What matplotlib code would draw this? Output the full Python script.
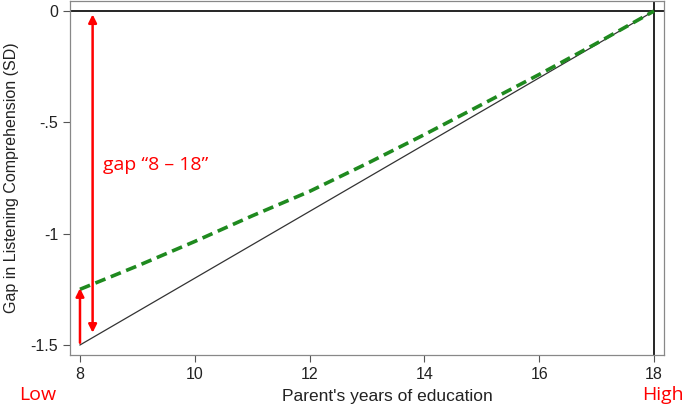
import matplotlib.pyplot as plt

plt.rcParams['font.family'] = ['Liberation Sans', 'DejaVu Sans']

# years of parental education
years = [8, 9, 10, 11, 12, 13, 14, 15, 16, 17, 18]
# gap in listening comprehension (SD), dashed green curve
gap_curve = [-1.25, -1.145, -1.035, -0.92, -0.81, -0.685, -0.555, -0.42, -0.285, -0.145, 0.0]
# linear reference line
line_x = [8, 18]
line_y = [-1.5, 0.0]

xticks = [8, 10, 12, 14, 16, 18]
yticks = [0, -0.5, -1, -1.5]
ytick_labels = ['0', '-.5', '-1', '-1.5']

fig = plt.figure(figsize=(6.85, 4.07), dpi=100)
ax = fig.add_axes([70/685, 1 - 355/407, 594/685, 354/407])

ax.axhline(0, color='black', lw=1.2)
ax.axvline(18, color='black', lw=1.2)
ax.plot(line_x, line_y, color='#333333', lw=0.9)
ax.plot(years, gap_curve, color='#1f8a1f', lw=2.6, linestyle=(0, (3, 1.6)))

# red arrows
ax.annotate('', xy=(8, -1.245), xytext=(8, -1.49),
            arrowprops=dict(arrowstyle='-|>', color='red', lw=1.8,
                            mutation_scale=12, shrinkA=0, shrinkB=0))
ax.annotate('', xy=(8.22, -0.015), xytext=(8.22, -1.445),
            arrowprops=dict(arrowstyle='<|-|>', color='red', lw=1.8,
                            mutation_scale=12, shrinkA=0, shrinkB=0))
ax.text(8.4, -0.69, 'gap \u201c8 \u2013 18\u201d', color='red', fontsize=14,
        family=['Open Sans', 'DejaVu Sans'], va='center', ha='left')

ax.set_xlim(7.826, 18.174)
ax.set_ylim(-1.545, 0.045)
ax.set_xticks(xticks)
ax.set_yticks(yticks)
ax.set_yticklabels(ytick_labels)
ax.tick_params(colors='#555555', labelcolor='#222222', labelsize=11.5,
               length=5, width=0.8)
for s in ax.spines.values():
    s.set_color('#888888')
    s.set_linewidth(0.9)

ax.set_xlabel("Parent's years of education", fontsize=12.5, color='#222222')
ax.xaxis.set_label_coords(0.535, -0.095)
ax.set_ylabel('Gap in Listening Comprehension (SD)', fontsize=11.5, color='#222222', labelpad=8)

fig.text(38/685, 1 - 395/407, 'Low', color='red', fontsize=14,
         family=['Open Sans', 'DejaVu Sans'], ha='center', va='center')
fig.text(663/685, 1 - 395/407, 'High', color='red', fontsize=14,
         family=['Open Sans', 'DejaVu Sans'], ha='center', va='center')

fig.savefig('out.png', dpi=100)
